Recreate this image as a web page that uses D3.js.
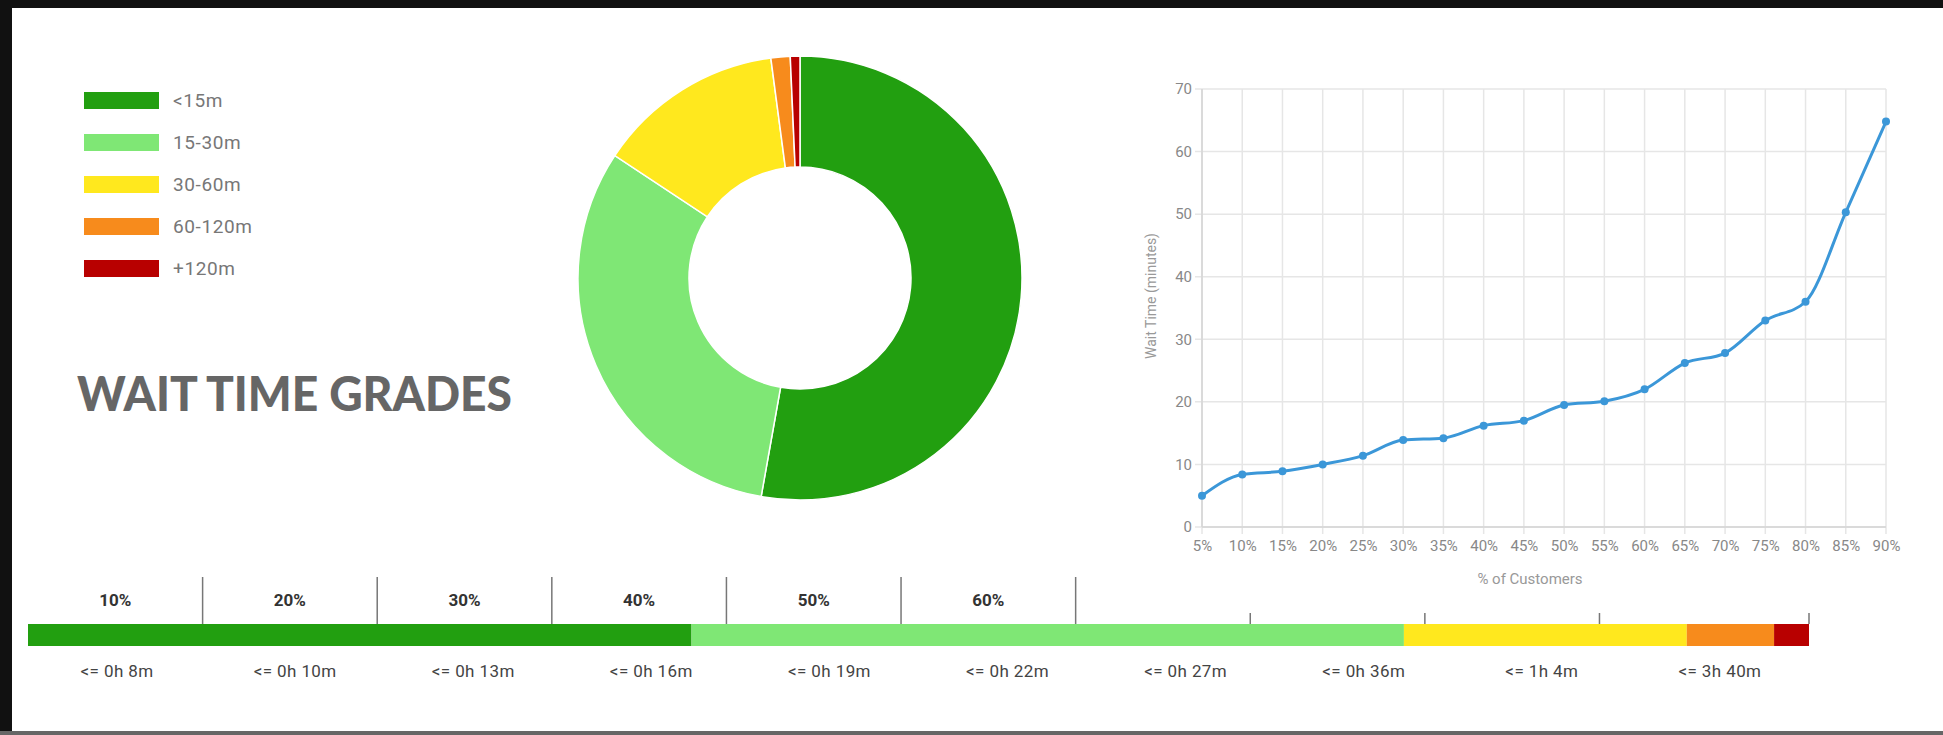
<!DOCTYPE html>
<html>
<head>
<meta charset="utf-8">
<script src="https://cdn.jsdelivr.net/npm/d3@7"></script>
<style>
  body { margin: 0; background: #fff; }
  svg { display: block; }
</style>
</head>
<body>
<div id="chart"></div>
<script>
// wait time grades (legend + donut)
var grades = ["<15m", "15-30m", "30-60m", "60-120m", "+120m"];
var gradeColors = ["#229f10", "#7fe775", "#ffe81e", "#f78b1c", "#b80000"];
var gradeShare = [52.8, 31.5, 13.6, 1.4, 0.7];

// wait time by percentile of customers
var pctLabels = ["5%", "10%", "15%", "20%", "25%", "30%", "35%", "40%", "45%",
                 "50%", "55%", "60%", "65%", "70%", "75%", "80%", "85%", "90%"];
var waitMinutes = [5.0, 8.4, 8.9, 10.0, 11.4, 13.9, 14.2, 16.2, 17.0,
                   19.5, 20.1, 22.0, 26.2, 27.8, 33.0, 36.0, 50.3, 64.8];
var yTicks = [0, 10, 20, 30, 40, 50, 60, 70];

// bottom percentile bar
var barEnds = [38, 78.8, 95, 100, 102];   // cumulative end of each grade (% of customers)
var topLabels = ["10%", "20%", "30%", "40%", "50%", "60%"];
var tallTicks = [10, 20, 30, 40, 50, 60];
var shortTicks = [70, 80, 90, 102];
var waitLabels = ["<= 0h 8m", "<= 0h 10m", "<= 0h 13m", "<= 0h 16m", "<= 0h 19m",
                  "<= 0h 22m", "<= 0h 27m", "<= 0h 36m", "<= 1h 4m", "<= 3h 40m"];

var W = 1943, H = 735;
var font = "Roboto, 'Open Sans', sans-serif";

var svg = d3.select("#chart").append("svg")
    .attr("width", W)
    .attr("height", H);

// frame
svg.append("rect").attr("x", 0).attr("y", 0).attr("width", W).attr("height", 8).attr("fill", "#111");
svg.append("rect").attr("x", 0).attr("y", 0).attr("width", 12).attr("height", H).attr("fill", "#111");
svg.append("rect").attr("x", 0).attr("y", 731).attr("width", W).attr("height", 4).attr("fill", "#666");

// legend
var legend = svg.append("g").attr("transform", "translate(84,92)");
var item = legend.selectAll("g").data(grades).enter().append("g")
    .attr("transform", function(d, i) { return "translate(0," + (i * 42) + ")"; });
item.append("rect")
    .attr("width", 75).attr("height", 17)
    .attr("fill", function(d, i) { return gradeColors[i]; });
item.append("text")
    .attr("x", 89).attr("y", 15)
    .attr("font-family", font)
    .attr("font-size", 19)
    .attr("letter-spacing", 0.6)
    .attr("fill", "#777")
    .text(function(d) { return d; });

// title
svg.append("text")
    .attr("x", 77).attr("y", 411)
    .attr("font-family", "Lato, DejaVu Sans, sans-serif")
    .attr("font-weight", 900)
    .attr("font-size", 47)
    .attr("fill", "#666")
    .attr("textLength", 435)
    .attr("lengthAdjust", "spacingAndGlyphs")
    .text("WAIT TIME GRADES");

// donut
var pie = d3.pie().sort(null).value(function(d) { return d; });
var arc = d3.arc().innerRadius(111).outerRadius(222);

svg.append("g")
    .attr("transform", "translate(800,278)")
  .selectAll("path")
    .data(pie(gradeShare))
  .enter().append("path")
    .attr("d", arc)
    .attr("fill", function(d, i) { return gradeColors[i]; })
    .attr("stroke", "#fff")
    .attr("stroke-width", 1.5);

// line chart
var x = d3.scalePoint().domain(pctLabels).range([1202, 1886]);
var y = d3.scaleLinear().domain([0, 70]).range([527, 89]);

var grid = svg.append("g").attr("stroke", "#e6e6e6").attr("stroke-width", 1.5);
grid.selectAll(".hg").data(yTicks).enter().append("line")
    .attr("class", "hg")
    .attr("x1", 1195).attr("x2", 1886)
    .attr("y1", function(d) { return y(d); })
    .attr("y2", function(d) { return y(d); });
grid.selectAll(".vg").data(pctLabels).enter().append("line")
    .attr("class", "vg")
    .attr("x1", function(d) { return x(d); })
    .attr("x2", function(d) { return x(d); })
    .attr("y1", 89).attr("y2", 534);

svg.append("line")
    .attr("x1", 1202).attr("x2", 1202).attr("y1", 89).attr("y2", 527)
    .attr("stroke", "#d4d4d4").attr("stroke-width", 1.5);
svg.append("line")
    .attr("x1", 1202).attr("x2", 1886).attr("y1", 527).attr("y2", 527)
    .attr("stroke", "#d4d4d4").attr("stroke-width", 1.5);

var yAxis = svg.append("g")
    .attr("transform", "translate(1195,0)")
    .call(d3.axisLeft(y).tickValues(yTicks).tickSize(0));
yAxis.select(".domain").remove();
yAxis.selectAll("text")
    .attr("font-family", font)
    .attr("font-size", 15).attr("fill", "#888");

var xAxis = svg.append("g")
    .attr("transform", "translate(0,537)")
    .call(d3.axisBottom(x).tickSize(0));
xAxis.select(".domain").remove();
xAxis.selectAll("text")
    .attr("font-family", font)
    .attr("font-size", 15).attr("fill", "#888");

svg.append("text")
    .attr("transform", "translate(1156,296) rotate(-90)")
    .attr("text-anchor", "middle")
    .attr("font-family", font)
    .attr("font-size", 14).attr("fill", "#999")
    .text("Wait Time (minutes)");
svg.append("text")
    .attr("x", 1530).attr("y", 584)
    .attr("text-anchor", "middle")
    .attr("font-family", font)
    .attr("font-size", 15).attr("fill", "#999")
    .text("% of Customers");

var line = d3.line()
    .x(function(d, i) { return x(pctLabels[i]); })
    .y(function(d) { return y(d); })
    .curve(d3.curveMonotoneX);

svg.append("path")
    .datum(waitMinutes)
    .attr("d", line)
    .attr("fill", "none")
    .attr("stroke", "#3b97d8")
    .attr("stroke-width", 3);

svg.selectAll(".pt").data(waitMinutes).enter().append("circle")
    .attr("class", "pt")
    .attr("cx", function(d, i) { return x(pctLabels[i]); })
    .attr("cy", function(d) { return y(d); })
    .attr("r", 4)
    .attr("fill", "#3b97d8");

// bottom percentile bar
var bx = d3.scaleLinear().domain([0, 102]).range([28, 1809]);
var segs = barEnds.map(function(e, i) { return { start: i ? barEnds[i - 1] : 0, end: e, color: gradeColors[i] }; });

svg.selectAll(".seg").data(segs).enter().append("rect")
    .attr("class", "seg")
    .attr("x", function(d) { return bx(d.start); })
    .attr("width", function(d) { return bx(d.end) - bx(d.start); })
    .attr("y", 624).attr("height", 22)
    .attr("fill", function(d) { return d.color; });

svg.selectAll(".tt").data(tallTicks).enter().append("line")
    .attr("class", "tt")
    .attr("x1", function(d) { return bx(d); })
    .attr("x2", function(d) { return bx(d); })
    .attr("y1", 577).attr("y2", 624)
    .attr("stroke", "#777").attr("stroke-width", 1.5);
svg.selectAll(".st").data(shortTicks).enter().append("line")
    .attr("class", "st")
    .attr("x1", function(d) { return bx(d); })
    .attr("x2", function(d) { return bx(d); })
    .attr("y1", 613).attr("y2", 624)
    .attr("stroke", "#777").attr("stroke-width", 1.5);

svg.selectAll(".tl").data(topLabels).enter().append("text")
    .attr("class", "tl")
    .attr("x", function(d, i) { return bx(tallTicks[i] - 5); })
    .attr("y", 606)
    .attr("text-anchor", "middle")
    .attr("font-family", font)
    .attr("font-weight", "bold")
    .attr("font-size", 17).attr("fill", "#333")
    .text(function(d) { return d; });

var lb = d3.scaleBand().domain(waitLabels).range([28, 1809]);
svg.selectAll(".wl").data(waitLabels).enter().append("text")
    .attr("class", "wl")
    .attr("x", function(d) { return lb(d) + lb.bandwidth() / 2; })
    .attr("y", 677)
    .attr("text-anchor", "middle")
    .attr("font-family", font)
    .attr("font-size", 17)
    .attr("letter-spacing", 0.4)
    .attr("fill", "#444")
    .text(function(d) { return d; });
</script>
</body>
</html>
